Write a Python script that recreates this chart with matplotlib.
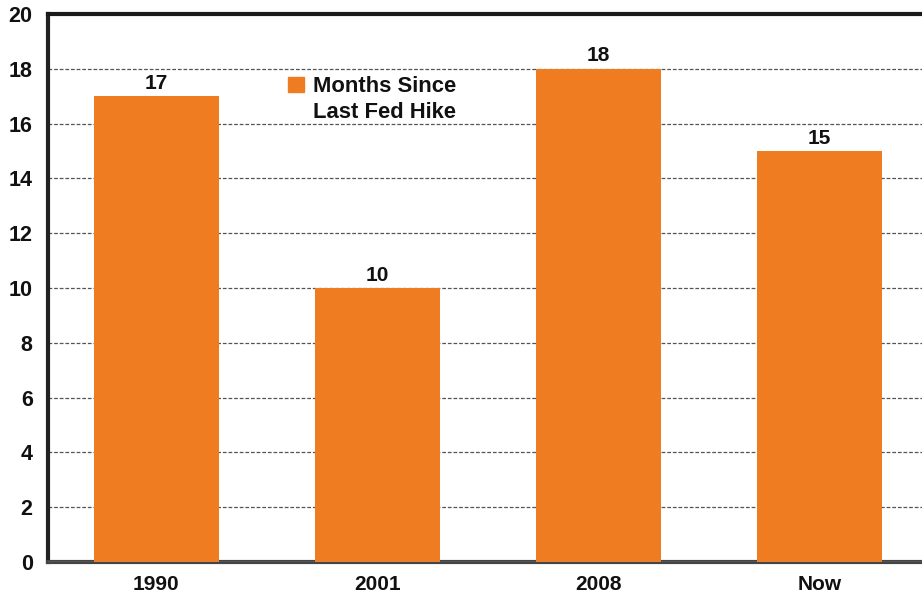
import matplotlib
matplotlib.use("Agg")
import matplotlib.pyplot as plt
from matplotlib.patches import Rectangle

categories = ["1990", "2001", "2008", "Now"]
values = [17, 10, 18, 15]
yticks = [0, 2, 4, 6, 8, 10, 12, 14, 16, 18, 20]
series_name = "Months Since\nLast Fed Hike"

plt.rcParams['font.family'] = ['Liberation Sans', 'DejaVu Sans']
W, H = 922, 596
fig = plt.figure(figsize=(W / 100, H / 100), dpi=100)
ax = fig.add_axes([48 / W, 1 - 562 / H, 1 - 48 / W, (562 - 14) / H])

orange = "#F07C22"
x = list(range(len(categories)))
ax.bar(x, values, width=0.566, color=orange, zorder=3)
for xi, v in zip(x, values):
    ax.annotate(str(v), (xi, v), xytext=(0, 2.5), textcoords='offset points',
                ha='center', va='bottom', fontsize=15, fontweight='bold', color='#111111')

ax.set_xlim(-0.49, 3.464)
ax.set_ylim(0, 20)
ax.set_yticks(yticks)
ax.set_yticklabels([str(t) for t in yticks], fontsize=15.5, fontweight='bold', color='#111111')
ax.set_xticks(x)
ax.set_xticklabels(categories, fontsize=15, fontweight='bold', color='#111111')
ax.tick_params(axis='y', length=0, pad=11)
ax.tick_params(axis='x', length=0, pad=9)
ax.yaxis.grid(True, linestyle=(0, (3, 1.5)), color='#555555', linewidth=0.9, zorder=0)
ax.set_axisbelow(True)

ax.spines['right'].set_visible(False)
ax.spines['top'].set_linewidth(3)
ax.spines['top'].set_color('#1a1a1a')
ax.spines['left'].set_linewidth(3)
ax.spines['left'].set_color('#222222')
ax.spines['bottom'].set_linewidth(3)
ax.spines['bottom'].set_color('#444444')
ax.axhline(0, color='#999999', linewidth=1, zorder=4)

# legend (square marker + two-line label)
fig.patches.append(Rectangle((288 / W, 1 - 92 / H), 16 / W, 15 / H,
                             transform=fig.transFigure, color=orange, zorder=5))
for i, line in enumerate(series_name.split("\n")):
    fig.text(313 / W, 1 - (92 + 26 * i) / H, line, ha='left', va='baseline',
             fontsize=15.8, fontweight='bold', color='#111111')

fig.savefig("out.png", dpi=100)
